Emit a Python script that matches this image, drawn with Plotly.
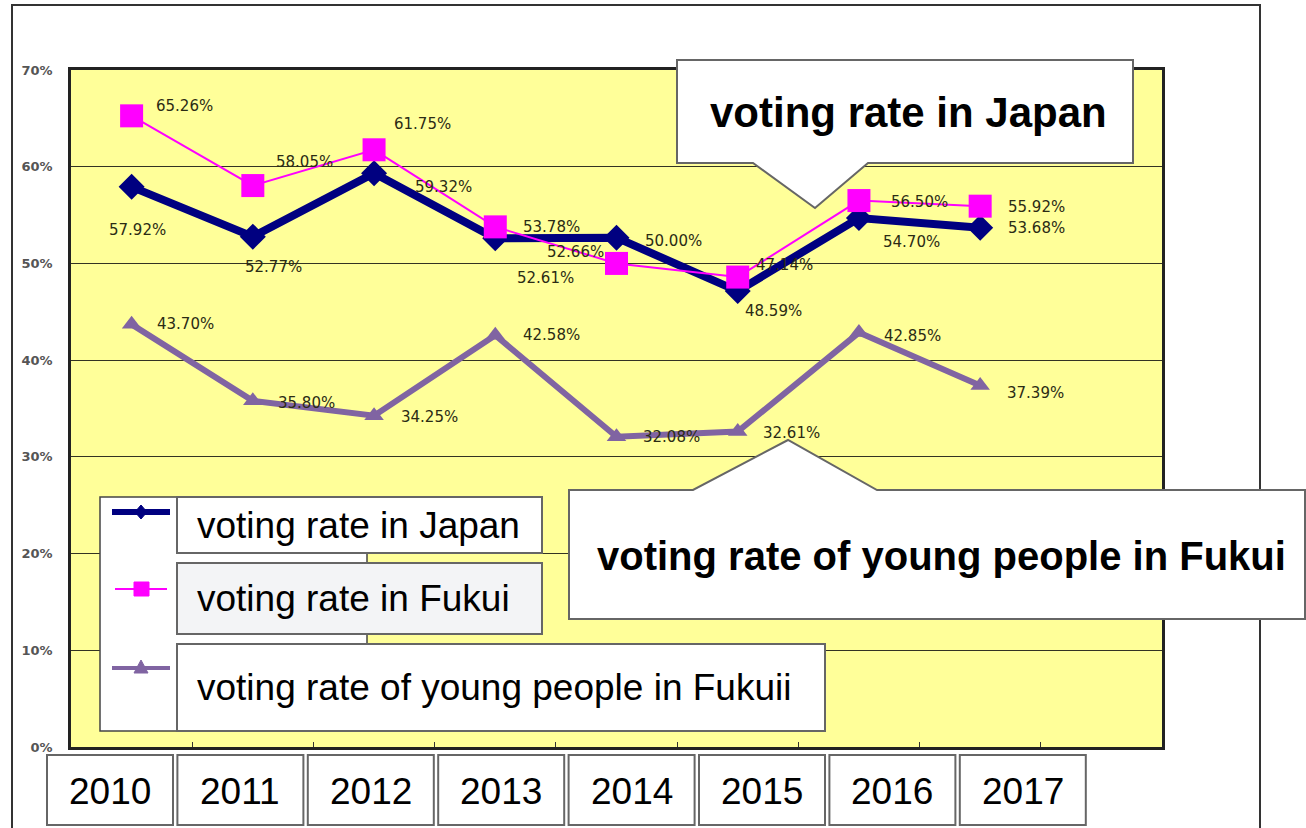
import plotly.graph_objects as go

# ---------------- data ----------------
years = ["2010", "2011", "2012", "2013", "2014", "2015", "2016", "2017"]
japan = [57.92, 52.77, 59.32, 52.61, 52.66, 47.14, 54.70, 53.68]
fukui = [65.26, 58.05, 61.75, 53.78, 50.00, 48.59, 56.50, 55.92]
young = [43.70, 35.80, 34.25, 42.58, 32.08, 32.61, 42.85, 37.39]
y_ticks = [0, 10, 20, 30, 40, 50, 60, 70]
y_tick_labels = ["0%", "10%", "20%", "30%", "40%", "50%", "60%", "70%"]

legend_texts = ["voting rate in Japan", "voting rate in Fukui",
                "voting rate of young people in Fukuii"]
callout_japan = "voting rate in Japan"
callout_young = "voting rate of young people in Fukui"

# label offsets in pixels (dx right, dy down)
japan_off = [(6, 43), (21, 30), (69, 14), (50, 40), (-41, 14), (47, -26), (53, 24), (56, 0)]
fukui_off = [(53, -10), (52, -24), (48, -26), (56, 0), (57, -22), (36, 34), (61, 1), (56, 1)]
young_off = [(54, 0), (54, 2), (55, 1), (56, 0), (55, 0), (54, 1), (54, 3), (55, 8)]

W, H = 1306, 828
def px(x):
    return x / W
def py(y):
    return 1 - y / H

NAVY = "#000080"
MAGENTA = "#FF00FF"
PURPLE = "#8064A2"
YELLOW = "#FFFF99"
LABEL_COLOR = "#2b2b14"

xs = list(range(len(years)))

fig = go.Figure()
fig.add_trace(go.Scatter(x=xs, y=young, mode="lines+markers",
                         line=dict(color=PURPLE, width=6),
                         marker=dict(symbol="triangle-up", size=17, color=PURPLE)))
fig.add_trace(go.Scatter(x=xs, y=japan, mode="lines+markers",
                         line=dict(color=NAVY, width=8),
                         marker=dict(symbol="diamond", size=20, color=NAVY)))
fig.add_trace(go.Scatter(x=xs, y=fukui, mode="lines+markers",
                         line=dict(color=MAGENTA, width=2),
                         marker=dict(symbol="square", size=23, color=MAGENTA)))

annotations = []
for series, offs in ((japan, japan_off), (fukui, fukui_off), (young, young_off)):
    for i, v in enumerate(series):
        dx, dy = offs[i]
        annotations.append(dict(x=xs[i], y=v, xref="x", yref="y",
                                xanchor="center", yanchor="middle",
                                text=f"{v:.2f}%", showarrow=False,
                                xshift=dx, yshift=-dy,
                                font=dict(family="DejaVu Sans", size=15, color=LABEL_COLOR)))

shapes = []
BOX_LINE = dict(color="#666666", width=2)

# outer frame
shapes.append(dict(type="rect", xref="paper", yref="paper",
                   x0=px(12), x1=px(1260), y0=py(860), y1=py(5),
                   line=dict(color="#333333", width=2), fillcolor="rgba(0,0,0,0)", layer="below"))

# original legend panel
shapes.append(dict(type="rect", xref="paper", yref="paper",
                   x0=px(100), x1=px(367), y0=py(731), y1=py(497),
                   line=dict(color="#444444", width=1.5), fillcolor="white", layer="above"))
# legend samples
shapes.append(dict(type="line", xref="paper", yref="paper", x0=px(112), x1=px(170),
                   y0=py(512), y1=py(512), line=dict(color=NAVY, width=6), layer="above"))
shapes.append(dict(type="path", xref="paper", yref="paper",
                   path=f"M {px(141)},{py(505)} L {px(147)},{py(512)} L {px(141)},{py(519)} L {px(135)},{py(512)} Z",
                   fillcolor=NAVY, line=dict(color=NAVY, width=1), layer="above"))
shapes.append(dict(type="line", xref="paper", yref="paper", x0=px(115), x1=px(167),
                   y0=py(589), y1=py(589), line=dict(color=MAGENTA, width=2), layer="above"))
shapes.append(dict(type="rect", xref="paper", yref="paper", x0=px(134), x1=px(149),
                   y0=py(596), y1=py(582), fillcolor=MAGENTA, line=dict(color=MAGENTA, width=1), layer="above"))
shapes.append(dict(type="line", xref="paper", yref="paper", x0=px(112), x1=px(170),
                   y0=py(668), y1=py(668), line=dict(color=PURPLE, width=4), layer="above"))
shapes.append(dict(type="path", xref="paper", yref="paper",
                   path=f"M {px(141)},{py(660)} L {px(148)},{py(673)} L {px(134)},{py(673)} Z",
                   fillcolor=PURPLE, line=dict(color=PURPLE, width=1), layer="above"))

# legend overlay boxes
legend_boxes = [(177, 497, 542, 553, "white"),
                (177, 563, 542, 634, "#F3F4F6"),
                (177, 644, 825, 731, "white")]
for (x0, y0, x1, y1, fill), txt in zip(legend_boxes, legend_texts):
    shapes.append(dict(type="rect", xref="paper", yref="paper",
                       x0=px(x0), x1=px(x1), y0=py(y1), y1=py(y0),
                       line=BOX_LINE, fillcolor=fill, layer="above"))
    annotations.append(dict(x=px(x0 + 18), y=py((y0 + y1) / 2), xref="paper", yref="paper",
                            xanchor="left", yanchor="middle", showarrow=False, text=txt,
                            font=dict(family="Liberation Sans", size=37, color="black")))

# callouts
shapes.append(dict(type="path", xref="paper", yref="paper",
                   path=(f"M {px(677)},{py(60)} L {px(1133)},{py(60)} L {px(1133)},{py(163)} "
                         f"L {px(868)},{py(163)} L {px(815)},{py(208)} L {px(753)},{py(163)} "
                         f"L {px(677)},{py(163)} Z"),
                   fillcolor="white", line=BOX_LINE, layer="above"))
annotations.append(dict(x=px(908), y=py(113), xref="paper", yref="paper", showarrow=False,
                        xanchor="center", yanchor="middle",
                        text=f"<b>{callout_japan}</b>",
                        font=dict(family="Liberation Sans", size=42, color="black")))
shapes.append(dict(type="path", xref="paper", yref="paper",
                   path=(f"M {px(569)},{py(490)} L {px(693)},{py(490)} L {px(788)},{py(440)} "
                         f"L {px(877)},{py(490)} L {px(1305)},{py(490)} L {px(1305)},{py(619)} "
                         f"L {px(569)},{py(619)} Z"),
                   fillcolor="white", line=BOX_LINE, layer="above"))
annotations.append(dict(x=px(941), y=py(556), xref="paper", yref="paper", showarrow=False,
                        xanchor="center", yanchor="middle",
                        text=f"<b>{callout_young}</b>",
                        font=dict(family="Liberation Sans", size=40, color="black")))

# year boxes
for i, yr in enumerate(years):
    x0 = 47 + i * 130.4
    x1 = x0 + 126
    shapes.append(dict(type="rect", xref="paper", yref="paper",
                       x0=px(x0), x1=px(x1), y0=py(825), y1=py(755),
                       line=BOX_LINE, fillcolor="white", layer="above"))
    annotations.append(dict(x=px((x0 + x1) / 2), y=py(791), xref="paper", yref="paper",
                            xanchor="center", yanchor="middle",
                            showarrow=False, text=yr,
                            font=dict(family="Liberation Sans", size=37, color="black")))

fig.update_layout(
    width=W, height=H, autosize=False,
    margin=dict(l=0, r=0, t=0, b=0, pad=0),
    paper_bgcolor="white", plot_bgcolor=YELLOW,
    showlegend=False,
    shapes=shapes, annotations=annotations,
    xaxis=dict(domain=[px(71), px(1162)], range=[-0.5, 8.5],
               tickvals=[i + 0.5 for i in xs], ticks="inside", ticklen=5,
               tickcolor="#333333", showticklabels=False, showgrid=False,
               zeroline=False, showline=True, mirror=True, automargin=False,
               linecolor="#222222", linewidth=2.5),
    yaxis=dict(domain=[py(747), py(70)], range=[0, 70], tickvals=y_ticks,
               ticktext=[f"<b>{t}</b>" for t in y_tick_labels],
               showgrid=True, gridcolor="#333322", gridwidth=1.3,
               zeroline=False, showline=True, mirror=True, automargin=False,
               linecolor="#222222", linewidth=2.5, ticks="",
               ticklabelstandoff=13,
               tickfont=dict(family="DejaVu Sans", size=13, color="#555555")),
)

fig.write_html("out.html", config={"displayModeBar": False, "responsive": False},
               post_script="document.body.style.margin='0';document.body.style.overflow='hidden';")
